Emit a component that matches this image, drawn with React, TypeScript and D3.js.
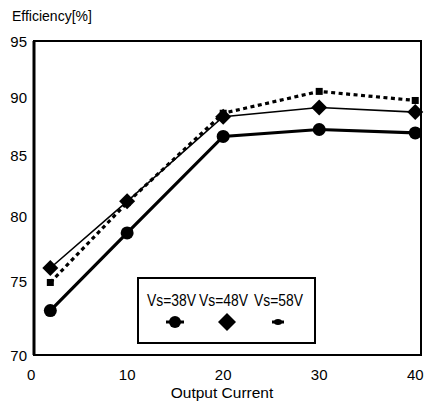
import React from "react";
import * as d3 from "d3";

// chart data
const outputCurrent = [2, 10, 20, 30, 40];
const eff38 = [73.0, 78.7, 86.6, 87.2, 86.9];
const eff48 = [76.0, 81.2, 88.3, 89.1, 88.7];
const eff58 = [74.9, 81.1, 88.6, 90.5, 89.7];
const xTicks = [0, 10, 20, 30, 40];
const yTicks = [70, 75, 80, 85, 90, 95];
const legendLabels = ["Vs=38V", "Vs=48V", "Vs=58V"];

const W = 428;
const H = 408;
const font = "'Liberation Sans', Arial, sans-serif";

export default function App() {
  const x = d3.scaleLinear().domain([0.3, 40.6]).range([34, 421]);
  // the scanned axis is not evenly spaced, so use a piecewise scale
  const y = d3.scaleLinear().domain(yTicks).range([355, 281, 216, 155, 97, 41]);

  const line = d3
    .line<number>()
    .x((_, i) => x(outputCurrent[i]))
    .y((d) => y(d));

  const diamond = (cx: number, cy: number, r: number) =>
    `M${cx},${cy - r}L${cx + r},${cy}L${cx},${cy + r}L${cx - r},${cy}Z`;

  const [x0, x1] = x.range();
  const [yb, yt] = [y(70), y(95)];

  // legend box
  const lg = { left: 138, top: 278, right: 315, bottom: 343 };
  const legendText = [147, 199, 254];
  const legendX = [175, 227, 278];

  return (
    <svg width={W} height={H} style={{ position: "absolute", left: 0, top: 0, background: "#fff" }}>
      {/* title */}
      <text x={12} y={21} fontFamily={font} fontSize={14} fill="#000">
        Efficiency[%]
      </text>

      {/* frame */}
      <path
        d={`M${x0},${yt}L${x1},${yt}L${x1},${yb}L${x0},${yb}Z`}
        fill="none"
        stroke="#000"
        strokeWidth={2}
      />
      <line x1={x0} x2={x0} y1={yt} y2={yb} stroke="#000" strokeWidth={3} />

      {/* y tick labels */}
      {yTicks.map((t) => (
        <text
          key={t}
          x={27}
          y={y(t) + 2}
          textAnchor="end"
          dominantBaseline="middle"
          fontFamily={font}
          fontSize={15}
        >
          {t}
        </text>
      ))}

      {/* x tick labels */}
      {xTicks.map((t) => (
        <text
          key={t}
          x={x(t)}
          y={376}
          textAnchor="middle"
          dominantBaseline="middle"
          fontFamily={font}
          fontSize={15}
        >
          {t}
        </text>
      ))}
      <text x={222} y={394} textAnchor="middle" dominantBaseline="middle" fontFamily={font} fontSize={15.5}>
        Output Current
      </text>

      {/* series */}
      <path d={line(eff38) || ""} fill="none" stroke="#000" strokeWidth={3.2} />
      <path d={line(eff48) || ""} fill="none" stroke="#000" strokeWidth={1.6} />
      <path
        d={line(eff58) || ""}
        fill="none"
        stroke="#000"
        strokeWidth={3.2}
        strokeDasharray="4,3.5"
      />

      {eff38.map((v, i) => (
        <circle key={"c" + i} cx={x(outputCurrent[i])} cy={y(v)} r={6.5} fill="#000" />
      ))}
      {eff48.map((v, i) => (
        <path key={"d" + i} d={diamond(x(outputCurrent[i]), y(v), 8)} fill="#000" />
      ))}
      {eff58.map((v, i) => (
        <rect
          key={"s" + i}
          x={x(outputCurrent[i]) - 3.5}
          y={y(v) - 3.5}
          width={7}
          height={7}
          fill="#000"
        />
      ))}

      {/* legend */}
      <rect
        x={lg.left}
        y={lg.top}
        width={lg.right - lg.left}
        height={lg.bottom - lg.top}
        fill="#fff"
        stroke="#000"
        strokeWidth={2}
      />
      {legendLabels.map((s, i) => (
        <text
          key={s}
          x={legendText[i]}
          y={302}
          dominantBaseline="middle"
          fontFamily={font}
          fontSize={16}
          textLength={49}
          lengthAdjust="spacingAndGlyphs"
        >
          {s}
        </text>
      ))}
      <line x1={legendX[0] - 9} x2={legendX[0] + 9} y1={322} y2={322} stroke="#000" strokeWidth={3} />
      <circle cx={legendX[0]} cy={322} r={6} fill="#000" />
      <path d={diamond(legendX[1], 322, 9)} fill="#000" />
      <line x1={legendX[2] - 6} x2={legendX[2] + 6} y1={322} y2={322} stroke="#000" strokeWidth={3} />
      <ellipse cx={legendX[2]} cy={322} rx={4} ry={3} fill="#000" />
    </svg>
  );
}
